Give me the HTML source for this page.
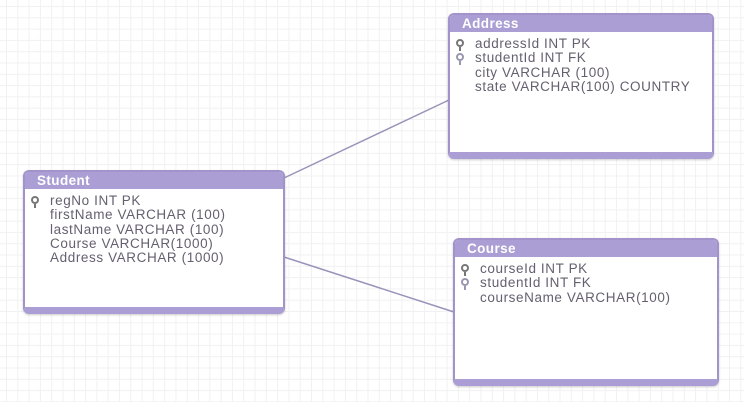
<!DOCTYPE html>
<html><head><style>
html,body{margin:0;padding:0}
body{width:744px;height:402px;position:relative;overflow:hidden;background-color:#fff;
background-image:linear-gradient(#f1f1f1 1px,transparent 1px),linear-gradient(90deg,#f1f1f1 1px,transparent 1px);
background-size:11.3px 11.3px;background-position:6px 6px;font-family:"Liberation Sans",sans-serif}
.box{position:absolute;background:#fff;border:2px solid #a294cb;border-radius:6px;box-sizing:border-box;border-bottom:7px solid #ab9ed4;box-shadow:0 1px 2px rgba(0,0,0,.2)}
.hd{background:#ab9ed4;color:#fff;font-weight:bold;font-size:13.5px;letter-spacing:0.4px;height:17px;line-height:17px;padding-left:12px;border-radius:4px 4px 0 0}
.rows{padding-top:5px;font-size:13.5px;line-height:14.3px;color:#65606f;letter-spacing:0.6px}
.r{position:relative;padding-left:25px;white-space:nowrap}
.k{position:absolute;left:6px;top:2px;width:8px;height:8px;border-radius:50%;border:2px solid #777;box-sizing:border-box}
.k:after{content:"";position:absolute;left:1px;top:6px;width:2px;height:4px;background:#777}
.k.f{border-color:#9a97b0}.k.f:after{background:#9a97b0}
</style></head><body>
<svg width="744" height="402" style="position:absolute;left:0;top:0">
<line x1="284" y1="178" x2="449" y2="100" stroke="#9b92ba" stroke-width="1.5"/>
<line x1="284" y1="257" x2="454" y2="312" stroke="#9b92ba" stroke-width="1.5"/>
</svg>
<div class="box" style="left:448px;top:13px;width:266px;height:146px">
<div class="hd">Address</div>
<div class="rows">
<div class="r"><span class="k"></span>addressId INT PK</div>
<div class="r"><span class="k f"></span>studentId INT FK</div>
<div class="r">city VARCHAR (100)</div>
<div class="r">state VARCHAR(100) COUNTRY</div>
</div></div>
<div class="box" style="left:23px;top:170px;width:262px;height:144px">
<div class="hd">Student</div>
<div class="rows">
<div class="r"><span class="k"></span>regNo INT PK</div>
<div class="r">firstName VARCHAR (100)</div>
<div class="r">lastName VARCHAR (100)</div>
<div class="r">Course VARCHAR(1000)</div>
<div class="r">Address VARCHAR (1000)</div>
</div></div>
<div class="box" style="left:453px;top:238px;width:266px;height:148px">
<div class="hd">Course</div>
<div class="rows">
<div class="r"><span class="k"></span>courseId INT PK</div>
<div class="r"><span class="k f"></span>studentId INT FK</div>
<div class="r">courseName VARCHAR(100)</div>
</div></div>
</body></html>
